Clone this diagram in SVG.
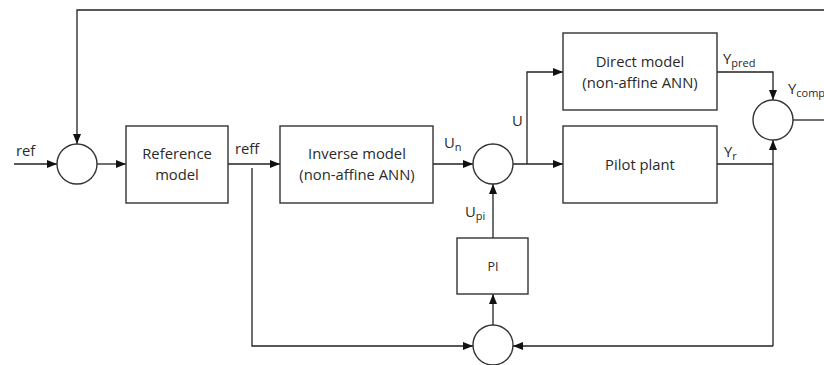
<svg xmlns="http://www.w3.org/2000/svg" width="824" height="365" viewBox="0 0 824 365">
<style>
  .box{fill:#fff;stroke:#333;stroke-width:1.4}
  .sum{fill:#fff;stroke:#333;stroke-width:1.4}
  .ln{fill:none;stroke:#222;stroke-width:1.3}
  text{font-family:"Open Sans","DejaVu Sans",sans-serif;font-size:14.8px;fill:#2a2a2a}
  .c{text-anchor:middle}
  .sub{font-size:11px}
</style>
<defs>
  <marker id="ah" viewBox="0 0 10 8" refX="10" refY="4" markerWidth="10" markerHeight="8" markerUnits="userSpaceOnUse" orient="auto">
    <path d="M0,0 L10,4 L0,8 z" fill="#111"/>
  </marker>
</defs>
<rect width="824" height="365" fill="#fff"/>
<g id="connectors">
  <path class="ln" d="M14 164 H57" marker-end="url(#ah)"/>
  <path class="ln" d="M97 164 H126" marker-end="url(#ah)"/>
  <path class="ln" d="M228 164 H280" marker-end="url(#ah)"/>
  <path class="ln" d="M433 164 H473" marker-end="url(#ah)"/>
  <path class="ln" d="M513 164 H563" marker-end="url(#ah)"/>
  <path class="ln" d="M527 164 V72 H563" marker-end="url(#ah)"/>
  <path class="ln" d="M717 72 H773 V100" marker-end="url(#ah)"/>
  <path class="ln" d="M793 120 H824"/>
  <path class="ln" d="M824 10 H77 V144" marker-end="url(#ah)"/>
  <path class="ln" d="M717 164 H773"/>
  <path class="ln" d="M773 346 V140" marker-end="url(#ah)"/>
  <path class="ln" d="M773 346 H513" marker-end="url(#ah)"/>
  <path class="ln" d="M252 168 V346 H473" marker-end="url(#ah)"/>
  <path class="ln" d="M493 325 V294" marker-end="url(#ah)"/>
  <path class="ln" d="M493 238 V184" marker-end="url(#ah)"/>
</g>
<g id="sum1"><circle class="sum" cx="77" cy="164" r="20"/></g>
<g id="reference-model">
  <rect class="box" x="126" y="126" width="102" height="77"/>
  <text class="c" x="177" y="159">Reference</text>
  <text class="c" x="177" y="180">model</text>
</g>
<g id="inverse-model">
  <rect class="box" x="280" y="126" width="153" height="77"/>
  <text class="c" x="357" y="159">Inverse model</text>
  <text class="c" x="357" y="180">(non-affine ANN)</text>
</g>
<g id="sum2"><circle class="sum" cx="493" cy="164" r="20"/></g>
<g id="direct-model">
  <rect class="box" x="563" y="33" width="154" height="77"/>
  <text class="c" x="640" y="67">Direct model</text>
  <text class="c" x="640" y="88">(non-affine ANN)</text>
</g>
<g id="pilot-plant">
  <rect class="box" x="563" y="126" width="154" height="77"/>
  <text class="c" x="640" y="170">Pilot plant</text>
</g>
<g id="sum3"><circle class="sum" cx="773" cy="120" r="20"/></g>
<g id="pi">
  <rect class="box" x="457" y="238" width="71" height="56"/>
  <text class="c" x="493" y="271" style="font-size:12.5px">PI</text>
</g>
<g id="sum4"><circle class="sum" cx="493" cy="345" r="20"/></g>
<g id="labels">
  <text x="16" y="156">ref</text>
  <text x="235" y="154">reff</text>
  <text x="444" y="148">U<tspan class="sub" dy="3">n</tspan></text>
  <text x="512" y="126">U</text>
  <text x="723" y="64">Y<tspan class="sub" dy="3">pred</tspan></text>
  <text x="788" y="94">Y<tspan class="sub" dy="3">comp</tspan></text>
  <text x="724" y="157">Y<tspan class="sub" dy="3">r</tspan></text>
  <text x="465" y="217">U<tspan class="sub" dy="3">pi</tspan></text>
</g>
</svg>
